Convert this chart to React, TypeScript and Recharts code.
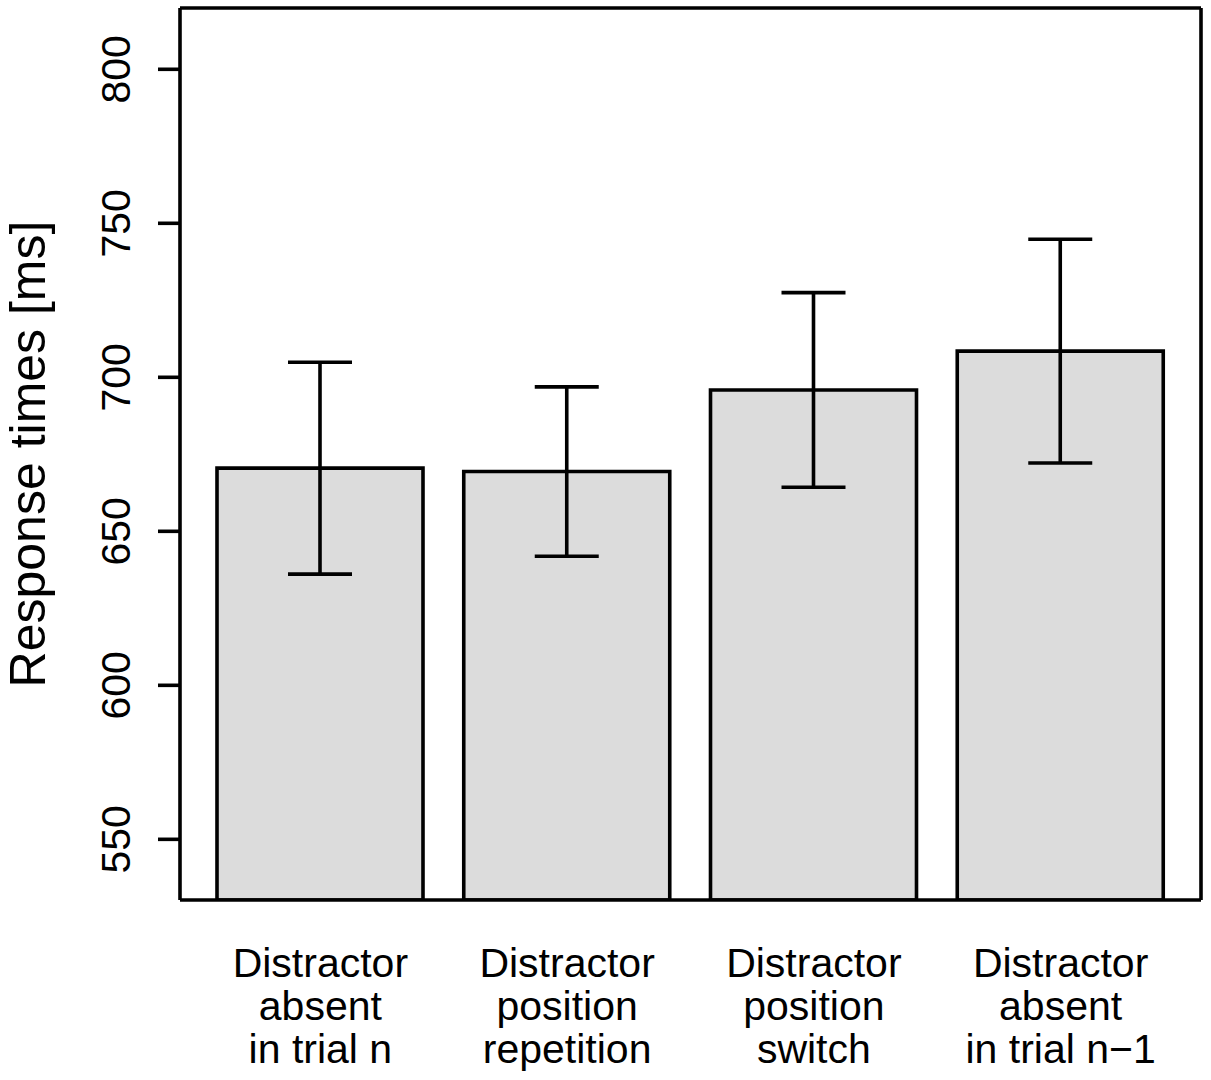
import React from 'react';
import { ComposedChart, Bar, Line, XAxis, YAxis, ErrorBar } from 'recharts';

// condition labels, one line per entry
const conditions: string[][] = [
  ['Distractor', 'absent', 'in trial n'],
  ['Distractor', 'position', 'repetition'],
  ['Distractor', 'position', 'switch'],
  ['Distractor', 'absent', 'in trial n\u22121'],
];
const meanRT = [670.5, 669.4, 695.9, 708.5];
const errRT = [34.4, 27.5, 31.6, 36.3];
const yTicks = [550, 600, 650, 700, 750, 800];
const yDomain = [530.3, 819.9];

const data = conditions.map((lines, i) => ({
  name: lines.join('\n'),
  rt: meanRT[i],
  err: errRT[i],
}));

const FONT = '"Liberation Sans", Arial, Helvetica, sans-serif';
const SW = 3.6;

function XTick({ x, y, payload }: any) {
  const lines = String(payload.value).split('\n');
  return (
    <text textAnchor="middle" fontFamily={FONT} fontSize={41} fill="#000">
      {lines.map((l, i) => (
        <tspan key={i} x={x} y={y + 77 + i * 43}>{l}</tspan>
      ))}
    </text>
  );
}

function YTick({ x, y, payload }: any) {
  const bx = x - 28;
  return (
    <text
      x={bx}
      y={y}
      transform={`rotate(-90, ${bx}, ${y})`}
      textAnchor="middle"
      fontFamily={FONT}
      fontSize={41}
      fill="#000"
    >
      {payload.value}
    </text>
  );
}

export default function App() {
  const line = { stroke: '#000', strokeWidth: SW };
  return (
    <div style={{ position: 'absolute', left: 0, top: 0, background: '#fff' }}>
      <ComposedChart width={1211} height={1080} data={data} margin={{ top: 7, right: 9, bottom: 0, left: 0 }}>
        <XAxis
          dataKey="name"
          height={180}
          padding={{ left: 17, right: 17 }}
          axisLine={line}
          tickLine={false}
          tickSize={0}
          tickMargin={0}
          interval={0}
          tick={<XTick />}
        />
        {/* top and right axes only draw the frame */}
        <XAxis xAxisId="top" dataKey="name" orientation="top" height={1} axisLine={line} tick={false} tickLine={false} />
        <YAxis
          type="number"
          domain={yDomain}
          allowDataOverflow
          ticks={yTicks}
          width={180}
          axisLine={line}
          tickLine={line}
          tickSize={22}
          tickMargin={0}
          tick={<YTick />}
        />
        <YAxis
          yAxisId="right"
          orientation="right"
          type="number"
          domain={yDomain}
          allowDataOverflow
          width={1}
          axisLine={line}
          tick={false}
          tickLine={false}
        />
        <text
          x={45}
          y={454}
          transform="rotate(-90, 45, 454)"
          textAnchor="middle"
          fontFamily={FONT}
          fontSize={50}
          fill="#000"
        >
          Response times [ms]
        </text>
        <Bar dataKey="rt" barSize={206} fill="#dcdcdc" stroke="#000" strokeWidth={SW} isAnimationActive={false}>
          <ErrorBar dataKey="err" width={32} stroke="#000" strokeWidth={SW} isAnimationActive={false} />
        </Bar>
        <Line
          xAxisId="top"
          yAxisId="right"
          dataKey="rt"
          stroke="none"
          dot={false}
          activeDot={false}
          legendType="none"
          isAnimationActive={false}
        />
      </ComposedChart>
    </div>
  );
}
